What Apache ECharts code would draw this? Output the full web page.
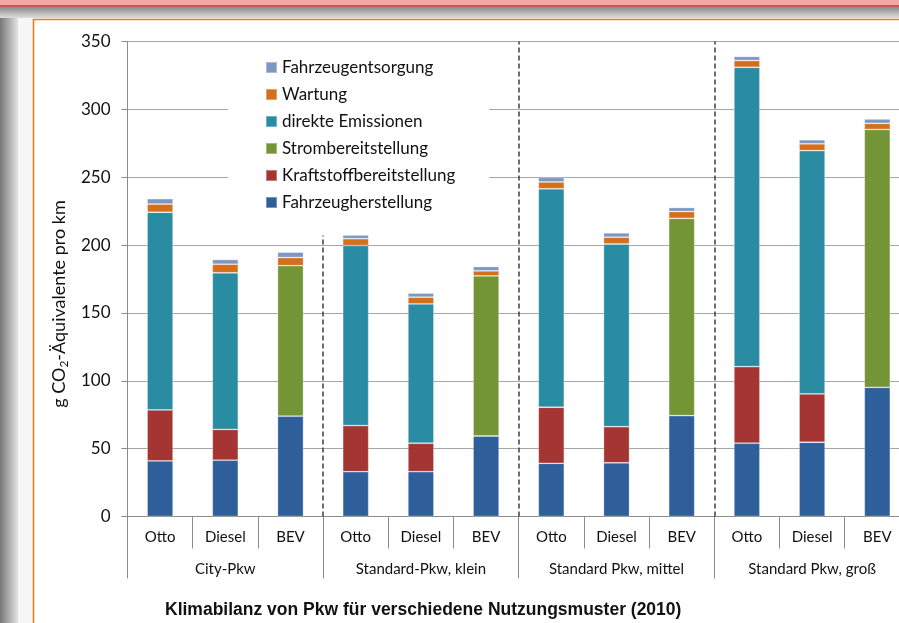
<!DOCTYPE html>
<html><head><meta charset="utf-8">
<script src="https://cdn.jsdelivr.net/npm/echarts@6/dist/echarts.min.js"></script>
<style>html,body{margin:0;padding:0;background:#fff;overflow:hidden}#c{width:910px;height:623px}</style>
</head><body><div id="c"></div>
<script>
// Categories
const categories = ['Otto','Diesel','BEV','Otto','Diesel','BEV','Otto','Diesel','BEV','Otto','Diesel','BEV'];
const groups = ['City-Pkw','Standard-Pkw, klein','Standard Pkw, mittel','Standard Pkw, groß'];
const yTicks = [0, 50, 100, 150, 200, 250, 300, 350];

// Series values (g CO2-Äquivalente pro km)
const fahrzeugherstellung   = [41.0, 41.5, 74.0, 33.0, 33.0, 59.3, 39.2, 39.6, 74.3, 54.0, 54.7, 95.2];
const kraftstoffbereitstellung = [37.5, 22.7, 0, 34.0, 21.0, 0, 41.3, 26.6, 0, 56.4, 35.6, 0];
const strombereitstellung   = [0, 0, 110.8, 0, 0, 118.0, 0, 0, 145.4, 0, 0, 190.0];
const direkteEmissionen     = [145.7, 115.4, 0, 132.7, 102.6, 0, 161.0, 134.6, 0, 220.6, 179.3, 0];
const wartung               = [6.0, 6.3, 6.0, 5.0, 5.0, 3.7, 5.0, 5.0, 5.0, 5.0, 5.0, 4.5];
const fahrzeugentsorgung    = [4.0, 3.5, 4.0, 2.7, 3.0, 3.2, 3.3, 3.2, 3.0, 3.0, 3.0, 3.2];

// Group divider lines (category-boundary index, top value)
const dividerPositions = [3, 6, 9];
const dividerTops = [207, 350, 350];

const seriesDefs = [
  ['Fahrzeugherstellung', fahrzeugherstellung, '#2f5f9b'],
  ['Kraftstoffbereitstellung', kraftstoffbereitstellung, '#a43532'],
  ['Strombereitstellung', strombereitstellung, '#749535'],
  ['direkte Emissionen', direkteEmissionen, '#2a8ca2'],
  ['Wartung', wartung, '#d46f1c'],
  ['Fahrzeugentsorgung', fahrzeugentsorgung, '#7d97c5']
];
const legendOrder = seriesDefs.map(d => d[0]).slice().reverse();

const FONT = 'Lato';
const TXT = '#111';

const chart = echarts.init(document.getElementById('c'));

const series = seriesDefs.map(([name, vals, color]) => ({
  name, type: 'bar', stack: 'total', xAxisIndex: 0, yAxisIndex: 0,
  barWidth: 26,
  data: vals.map(v => v === 0 ? '-' : v),
  itemStyle: { color, borderColor: 'rgba(255,255,255,0.35)', borderWidth: 0.8 },
  emphasis: { disabled: true },
  silent: true
}));

series.push({
  type: 'line', xAxisIndex: 2, yAxisIndex: 0, data: [], silent: true,
  markLine: {
    silent: true, symbol: ['none', 'none'], label: { show: false },
    lineStyle: { color: '#3f3f3f', type: [5, 3], width: 1.5 },
    data: dividerPositions.map((p, i) => [{ coord: [p, 0] }, { coord: [p, dividerTops[i]] }])
  }
});

chart.setOption({
  animation: false,
  backgroundColor: '#fff',
  graphic: [
    { type: 'rect', z: -1, shape: { x: 0, y: 0, width: 910, height: 5 }, style: { fill: '#f4a6a6' } },
    { type: 'rect', z: -1, shape: { x: 0, y: 5, width: 910, height: 2 }, style: { fill: '#c25a58' } },
    { type: 'rect', z: -1, shape: { x: 0, y: 7, width: 910, height: 11 },
      style: { fill: new echarts.graphic.LinearGradient(0, 0, 0, 1, [{ offset: 0, color: '#8a8a8a' }, { offset: 1, color: '#dedede' }]) } },
    { type: 'rect', z: -1, shape: { x: 0, y: 18, width: 18, height: 605 },
      style: { fill: new echarts.graphic.LinearGradient(0, 0, 1, 0, [{ offset: 0, color: '#777' }, { offset: 1, color: '#e4e4e4' }]) } },
    { type: 'rect', z: -1, shape: { x: 18, y: 18, width: 15, height: 605 }, style: { fill: '#f6f6f6' } },
    { type: 'rect', z: -1, shape: { x: 18, y: 18, width: 892, height: 2 }, style: { fill: '#f6f6f6' } },
    { type: 'polyline', z: 1, shape: { points: [[33.5, 623], [33.5, 19.5], [910, 19.5]] },
      style: { stroke: '#ee7d1f', lineWidth: 1.6, fill: null } }
  ],
  title: {
    text: 'Klimabilanz von Pkw für verschiedene Nutzungsmuster (2010)',
    left: 165, top: 601, padding: 0,
    textStyle: { fontFamily: 'Liberation Sans', fontWeight: 'bold', fontSize: 17.5, color: '#111' }
  },
  legend: {
    data: legendOrder,
    orient: 'vertical', left: 228, top: 51,
    padding: [8, 34, 10, 37],
    backgroundColor: '#fff',
    itemWidth: 11, itemHeight: 11, itemGap: 10, icon: 'rect',
    selectedMode: false,
    textStyle: { fontFamily: FONT, fontSize: 17, lineHeight: 17, color: TXT }
  },
  grid: { left: 127.5, top: 41.5, width: 782.4, height: 475 },
  xAxis: [
    {
      type: 'category', data: categories, position: 'bottom',
      axisLine: { lineStyle: { color: '#8c8c8c' } },
      axisTick: { show: true, interval: 0, length: 32, lineStyle: { color: '#8c8c8c' } },
      axisLabel: { interval: 0, margin: 13, fontFamily: FONT, fontSize: 15, color: TXT }
    },
    {
      type: 'category', data: groups, position: 'bottom', offset: 0,
      axisLine: { show: false },
      axisTick: { show: true, interval: 0, length: 62, lineStyle: { color: '#8c8c8c' } },
      axisLabel: { interval: 0, margin: 45, fontFamily: FONT, fontSize: 15, color: TXT }
    },
    { type: 'value', min: 0, max: categories.length, show: false }
  ],
  yAxis: [{
    type: 'value', min: yTicks[0], max: yTicks[yTicks.length - 1], interval: yTicks[1] - yTicks[0],
    name: 'g CO{sub|2}-Äquivalente pro km', nameLocation: 'middle', nameGap: 54, nameRotate: 90,
    nameTextStyle: {
      fontFamily: FONT, fontSize: 18, color: TXT, padding: [0, 50, 0, 0],
      rich: { sub: { fontFamily: FONT, fontSize: 12, color: TXT, verticalAlign: 'bottom', padding: [10, 0, 0, 0] } }
    },
    axisLine: { show: true, lineStyle: { color: '#8c8c8c' } },
    axisTick: { show: true, length: 6, lineStyle: { color: '#8c8c8c' } },
    splitLine: { show: true, lineStyle: { color: '#a6a6a6' } },
    axisLabel: { margin: 17, fontFamily: FONT, fontSize: 17, color: TXT }
  }],
  series
});
</script>
</body></html>
